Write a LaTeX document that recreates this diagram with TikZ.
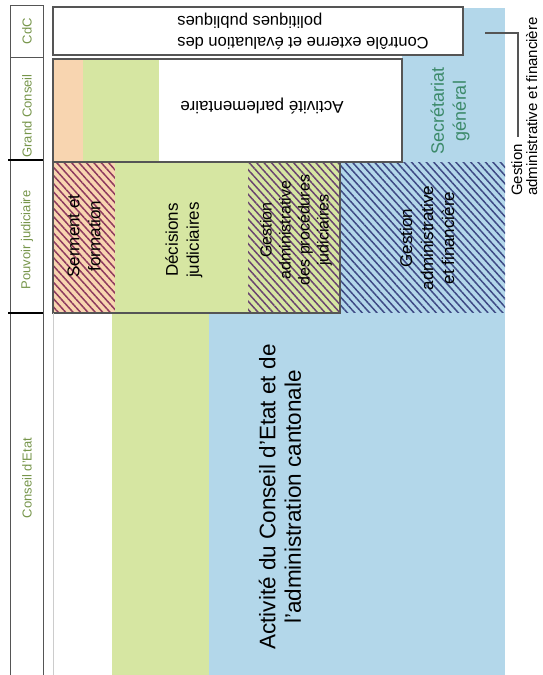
\documentclass[tikz,border=0pt]{standalone}
\usepackage{fontspec}
\setmainfont{Liberation Sans}
\usetikzlibrary{patterns.meta}
\definecolor{peche}{HTML}{F8D5B0}
\definecolor{vert}{HTML}{D6E6A2}
\definecolor{bleu}{HTML}{B3D7EA}
\definecolor{olive}{HTML}{76954A}
\definecolor{sarcelle}{HTML}{3C8A6A}
\definecolor{bordeaux}{HTML}{8E3A5E}
\definecolor{violetH}{HTML}{6A4470}
\definecolor{marine}{HTML}{3E4A85}
\definecolor{trait}{HTML}{555555}

\begin{document}
\begin{tikzpicture}[x=1pt,y=-1pt,
    rangee/.style={rotate=90,text=olive,inner sep=0pt,font=\fontsize{13}{15}\selectfont},
    zone/.style={rotate=90,align=center,inner sep=0pt,font=\fontsize{17}{21}\selectfont},
    cadre/.style={draw=trait,line width=1.2pt},
    hachure/.style={pattern={Lines[angle=-48,distance=5.5pt,line width=1.5pt]},pattern color=#1}]
    \useasboundingbox (0,0) rectangle (543,675);
    % Colonne des pouvoirs
    \draw[trait,line width=1pt] (10,675) -- (10,5) -- (43,5) -- (43,675);
    \draw[trait,line width=1pt] (10,57) -- (43,57);
    \draw[black,line width=1.5pt] (8,160) -- (43,160);
    \draw[black,line width=1.5pt] (8,313) -- (43,313);
    \node[rangee] (cdc) at (27,31) {CdC};
    \node[rangee] (gc) at (27,116) {Grand Conseil};
    \node[rangee] (pj) at (27,240) {Pouvoir judiciaire};
    \node[rangee] (ce) at (27,478) {Conseil d'Etat};
    % Fonds
    \fill[bleu] (402,8) rectangle (505,162);
    \fill[peche] (53,59) rectangle (83,162);
    \fill[vert] (83,59) rectangle (159,162);
    \fill[peche] (53,162) rectangle (115,313);
    \fill[hachure=bordeaux] (53,162) rectangle (115,313);
    \fill[vert] (115,162) rectangle (340,313);
    \fill[hachure=violetH] (248,162) rectangle (340,313);
    \fill[bleu] (340,162) rectangle (505,313);
    \fill[hachure=marine] (340,162) rectangle (505,313);
    \fill[vert] (112,313) rectangle (209,675);
    \fill[bleu] (209,313) rectangle (505,675);
    % Cadres
    \draw[cadre,fill=white] (53,7) rectangle (463,55);
    \draw[cadre] (53,59) rectangle (402,162);
    \draw[cadre] (53,162) rectangle (340,313);
    \draw[trait!30] (53,313) -- (53,675);
    % Textes
    \node[rotate=180,align=right,inner sep=0pt,font=\fontsize{16.5}{21}\selectfont] (cep) at (303,31)
        {Contrôle externe et évaluation des\\politiques publiques};
    \node[rotate=180,inner sep=0pt,font=\fontsize{17}{20}\selectfont] (apar) at (262,106) {Activité parlementaire};
    \node[zone,text=sarcelle,font=\fontsize{18}{22}\selectfont] (sg) at (450,111) {Secrétariat\\général};
    \node[zone] (serm) at (84,236) {Serment et\\formation};
    \node[zone] (dec) at (184,240) {Décisions\\judiciaires};
    \node[zone,font=\fontsize{16}{19}\selectfont] (gproc) at (296,230)
        {Gestion\\administrative\\des procédures\\judiciaires};
    \node[zone] (gfin) at (427,238) {Gestion\\administrative\\et financière};
    \node[zone,font=\fontsize{22.5}{25.5}\selectfont] (ace) at (280,497)
        {Activité du Conseil d'Etat et de\\l'administration cantonale};
    % Renvoi
    \node[rotate=90,anchor=north west,align=left,inner sep=0pt,font=\fontsize{15}{15}\selectfont] (gaf) at (511,196)
        {Gestion\\administrative et financière};
    \coordinate (sgmark) at (485,33);
    \coordinate (gafbout) at (518,137);
    \draw[trait,line width=1.2pt] (sgmark) -| (gafbout);
\end{tikzpicture}
\end{document}
